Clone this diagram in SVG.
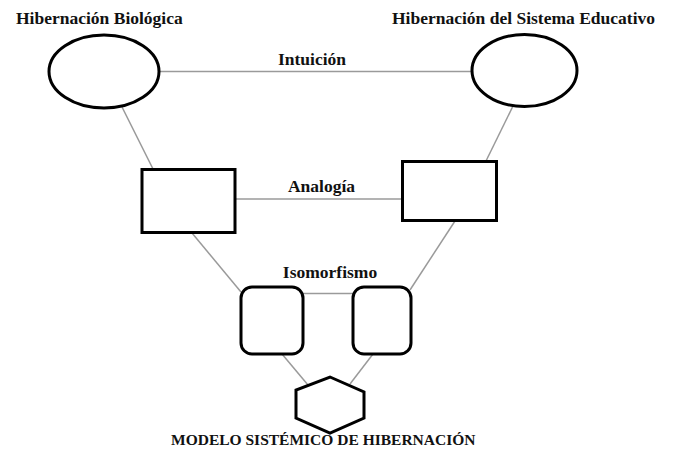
<svg xmlns="http://www.w3.org/2000/svg" width="677" height="455" viewBox="0 0 677 455">
<style>
.shape{fill:#fff;stroke:#000;stroke-width:3}
.conn line{stroke:#9a9a9a;stroke-width:1.5}
.lbl{font-family:'Liberation Serif','Times New Roman',serif;font-weight:bold;font-size:17.5px;fill:#111}
.title{font-family:'Liberation Serif','Times New Roman',serif;font-weight:bold;font-size:15.5px;fill:#111}
</style>
<rect width="677" height="455" fill="#fff"/>
<g id="connectors" class="conn">
<line x1="159" y1="71.5" x2="471" y2="71.5"/>
<line x1="122" y1="107" x2="153" y2="169"/>
<line x1="513" y1="106" x2="486" y2="161"/>
<line x1="235" y1="199" x2="401" y2="199"/>
<line x1="192" y1="233" x2="241" y2="292"/>
<line x1="455" y1="221" x2="410" y2="290"/>
<line x1="303" y1="293.5" x2="353" y2="293.5"/>
<line x1="282" y1="354" x2="308" y2="385"/>
<line x1="373" y1="354" x2="350" y2="384"/>
</g>
<g id="label-intuicion"><text class="lbl" x="312" y="65" text-anchor="middle">Intuición</text></g>
<g id="label-analogia"><text class="lbl" x="321.5" y="192" text-anchor="middle">Analogía</text></g>
<g id="label-isomorfismo"><text class="lbl" x="330" y="278" text-anchor="middle">Isomorfismo</text></g>
<g id="node-bio">
<ellipse class="shape" cx="104" cy="71.5" rx="55" ry="36.5"/>
<text class="lbl" x="16" y="24">Hibernación Biológica</text>
</g>
<g id="node-edu">
<ellipse class="shape" cx="524.5" cy="70.5" rx="52.5" ry="36"/>
<text class="lbl" x="392" y="24">Hibernación del Sistema Educativo</text>
</g>
<g id="node-rect-left"><rect class="shape" x="142" y="169.5" width="93" height="63"/></g>
<g id="node-rect-right"><rect class="shape" x="402.5" y="161.5" width="94" height="59"/></g>
<g id="node-iso-left"><rect class="shape" x="241" y="287" width="62" height="67" rx="11"/></g>
<g id="node-iso-right"><rect class="shape" x="353" y="287" width="58" height="67" rx="11"/></g>
<g id="node-model">
<polygon class="shape" points="330,377 364,392 364,418 330,433 296,418 296,390"/>
<text class="title" x="171" y="445">MODELO SISTÉMICO DE HIBERNACIÓN</text>
</g>
</svg>
